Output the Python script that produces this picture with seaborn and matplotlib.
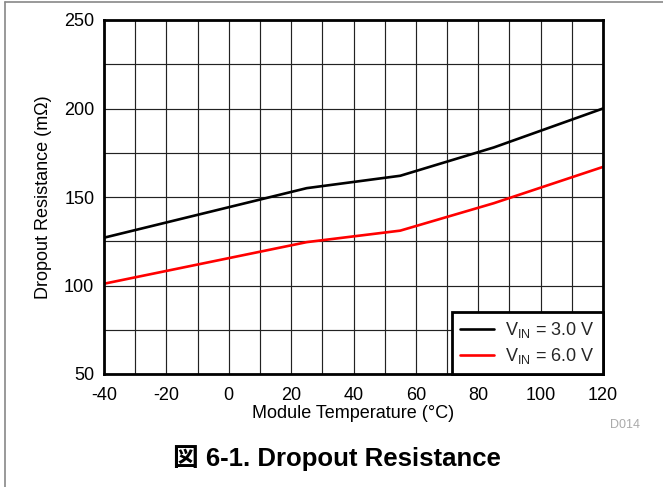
import matplotlib
matplotlib.use("Agg")
import matplotlib.pyplot as plt
from matplotlib.lines import Line2D
import seaborn as sns
import pandas as pd

# Data
temperature = [-40, 25, 55, 85, 120]
r_vin_3v0 = [127, 155, 162, 178, 200]
r_vin_6v0 = [101, 124.5, 131, 146.5, 167]
series_labels = [r"V$_{\mathrm{IN}}$ = 3.0 V", r"V$_{\mathrm{IN}}$ = 6.0 V"]
x_ticks = [-40, -20, 0, 20, 40, 60, 80, 100, 120]
y_ticks = [50, 100, 150, 200, 250]

sns.set_theme(style="white")
plt.rcParams['font.family'] = ['Liberation Sans', 'Noto Sans CJK JP', 'DejaVu Sans']
plt.rcParams['mathtext.fontset'] = 'custom'
plt.rcParams['mathtext.rm'] = 'Liberation Sans'
plt.rcParams['mathtext.it'] = 'Liberation Sans:italic'
plt.rcParams['mathtext.bf'] = 'Liberation Sans:bold'
plt.rcParams['axes.unicode_minus'] = False

df = pd.DataFrame({
    "temp": temperature * 2,
    "res": r_vin_3v0 + r_vin_6v0,
    "series": [series_labels[0]] * len(temperature) + [series_labels[1]] * len(temperature),
})

fig = plt.figure(figsize=(6.63, 4.87), dpi=100)
ax = fig.add_axes([104 / 663, 1 - 374 / 487, (603 - 104) / 663, (374 - 20) / 487])

sns.lineplot(data=df, x="temp", y="res", hue="series",
             palette=["#000000", "#ff0000"], linewidth=1.9, ax=ax, legend=True)

ax.set_xlim(-40, 120)
ax.set_ylim(50, 250)
ax.set_xticks(x_ticks)
ax.set_yticks(y_ticks)
ax.set_xticks(list(range(-40, 121, 10)), minor=True)
ax.set_yticks(list(range(50, 251, 25)), minor=True)
ax.grid(True, which='both', color='#222222', linewidth=0.85)
ax.set_axisbelow(True)
ax.tick_params(which='both', length=0, labelsize=13, colors='black')
ax.tick_params(axis='x', pad=9)
ax.tick_params(axis='y', pad=7)
for s in ax.spines.values():
    s.set_color('black')
    s.set_linewidth(2.0)

ax.set_xlabel("Module Temperature (°C)", fontsize=13, color='black', labelpad=1)
ax.set_ylabel("Dropout Resistance (mΩ)", fontsize=13, color='black', labelpad=9)

leg = ax.legend(loc='lower right', borderaxespad=0, fontsize=13, frameon=True,
                fancybox=False, handlelength=1.9, handletextpad=0.6,
                labelspacing=0.3, borderpad=0.45)
leg.get_frame().set_edgecolor('black')
leg.get_frame().set_linewidth(2.0)
leg.get_frame().set_alpha(1)
for h in leg.get_lines():
    h.set_linewidth(1.9)

fig.text(640 / 663, 1 - 425 / 487, "D014", fontsize=9, color='#aaaaaa',
         ha='right', va='center')
fig.text(337 / 663, 1 - 458 / 487, "図 6-1. Dropout Resistance", fontsize=18.5,
         fontweight='bold', ha='center', va='center', color='black')

# figure frame (left and top)
fig.add_artist(Line2D([4.5 / 663, 4.5 / 663], [0, 1 - 2.3 / 487], color='#888888', lw=1.2,
                      transform=fig.transFigure))
fig.add_artist(Line2D([4.5 / 663, 1], [1 - 2.3 / 487, 1 - 2.3 / 487], color='#888888', lw=1.2,
                      transform=fig.transFigure))

fig.savefig("out.png", dpi=100)
